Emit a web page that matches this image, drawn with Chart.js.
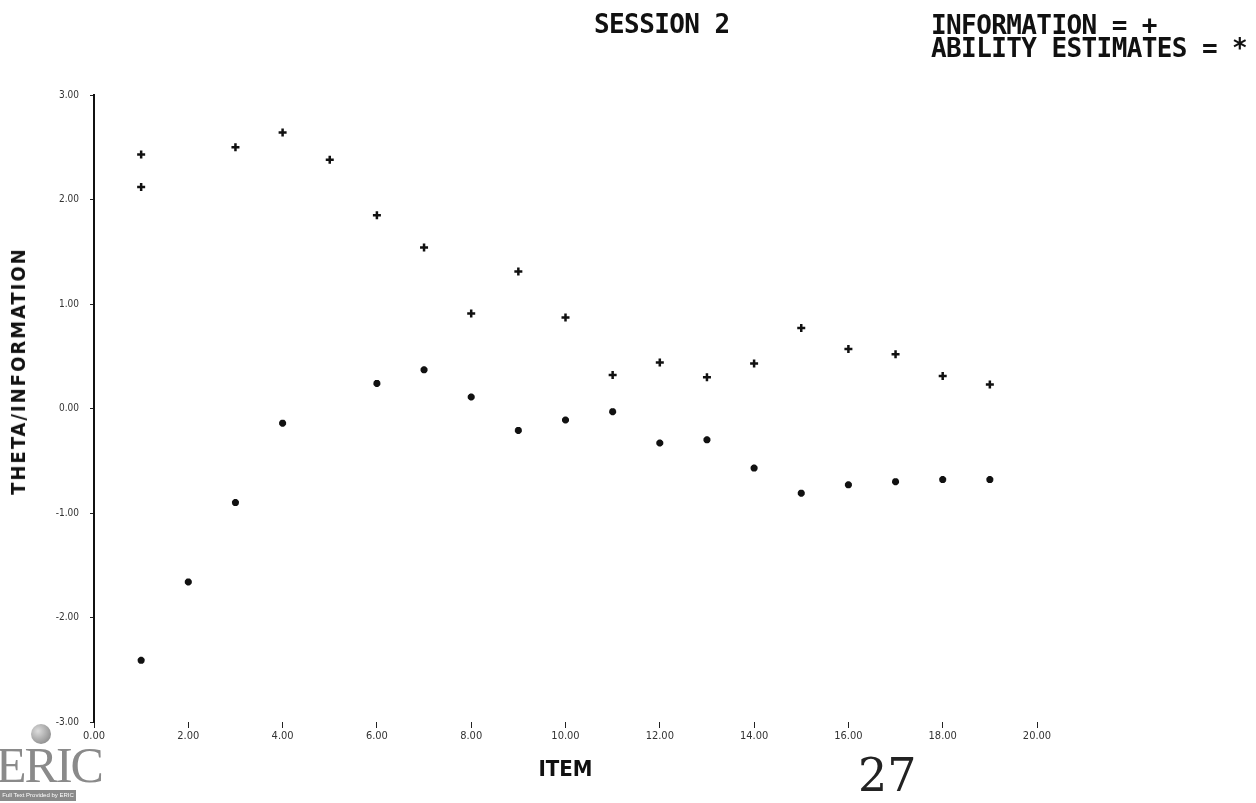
<!DOCTYPE html>
<html>
<head>
<meta charset="utf-8">
<script src="https://cdn.jsdelivr.net/npm/chart.js"></script>
<style>
    html, body { margin: 0; padding: 0; background: #fff; }
    #wrap { position: relative; width: 1256px; height: 803px; overflow: hidden; }
    #chart { position: absolute; left: 0; top: 0; }
    .hdr { position: absolute; font-family: "DejaVu Sans Mono", monospace; font-weight: bold; font-size: 26px; line-height: 26px; letter-spacing: -0.6px; color: #111; white-space: nowrap; }
    #ytitle { position: absolute; left: 18px; top: 371px; transform: translate(-50%, -50%) rotate(-90deg); font-family: "DejaVu Sans Condensed", sans-serif; font-weight: bold; font-size: 20px; letter-spacing: 2px; color: #111; white-space: nowrap; }
    #page { position: absolute; left: 858px; top: 748px; font-family: "DejaVu Serif", "Liberation Serif", serif; font-size: 46px; color: #222; }
    #eric { position: absolute; left: -4px; top: 736px; font-family: "Liberation Serif", serif; font-size: 50px; color: #8a8a8a; letter-spacing: -2px; }
    #globe { position: absolute; left: 31px; top: 724px; width: 20px; height: 20px; border-radius: 50%; background: radial-gradient(circle at 35% 35%, #ddd, #777); }
    #ericbar { position: absolute; left: 0; top: 790px; width: 76px; height: 11px; background: #8a8a8a; color: #fff; font-family: "Liberation Sans", sans-serif; font-size: 6px; line-height: 11px; text-align: center; }
</style>
</head>
<body>
<div id="wrap">
    <canvas id="chart" width="1256" height="803"></canvas>
    <div class="hdr" style="left:594px; top:11px;">SESSION 2</div>
    <div class="hdr" style="left:931px; top:12px;">INFORMATION = +</div>
    <div class="hdr" style="left:931px; top:35px;">ABILITY ESTIMATES = *</div>
    <div id="ytitle">THETA/INFORMATION</div>
    <div id="page">27</div>
    <div id="globe"></div>
    <div id="eric">ERIC</div>
    <div id="ericbar">Full Text Provided by ERIC</div>
</div>
<script>
    // x axis ticks (item number) and y axis ticks (theta / information)
    const xTicks = [0, 2, 4, 6, 8, 10, 12, 14, 16, 18, 20];
    const yTicks = [-3, -2, -1, 0, 1, 2, 3];

    // information values (+)
    const infoItems = [1, 1, 3, 4, 5, 6, 7, 8, 9, 10, 11, 12, 13, 14, 15, 16, 17, 18, 19];
    const infoValues = [2.43, 2.12, 2.50, 2.64, 2.38, 1.85, 1.54, 0.91, 1.31, 0.87, 0.32, 0.44, 0.30, 0.43, 0.77, 0.57, 0.52, 0.31, 0.23];

    // ability estimates (*)
    const abilityItems = [1, 2, 3, 4, 6, 7, 8, 9, 10, 11, 12, 13, 14, 15, 16, 17, 18, 19];
    const abilityValues = [-2.41, -1.66, -0.90, -0.14, 0.24, 0.37, 0.11, -0.21, -0.11, -0.03, -0.33, -0.30, -0.57, -0.81, -0.73, -0.70, -0.68, -0.68];

    function toPoints(xs, ys) {
        return xs.map((x, i) => ({ x: x, y: ys[i] }));
    }

    const ctx = document.getElementById('chart');

    const config = {
        type: 'scatter',
        data: {
            datasets: [{
                label: 'INFORMATION',
                data: toPoints(infoItems, infoValues),
                pointStyle: 'cross',
                pointRadius: 4,
                borderWidth: 2.5,
                borderColor: '#111',
                backgroundColor: '#111'
            }, {
                label: 'ABILITY ESTIMATES',
                data: toPoints(abilityItems, abilityValues),
                pointStyle: 'star',
                pointRadius: 3.5,
                borderWidth: 2.5,
                borderColor: '#111',
                backgroundColor: '#111'
            }]
        },
        options: {
            responsive: false,
            animation: false,
            layout: {
                padding: { top: 95, right: 219, bottom: 0, left: 0 }
            },
            plugins: {
                legend: { display: false },
                tooltip: { enabled: false }
            },
            scales: {
                x: {
                    type: 'linear',
                    min: 0,
                    max: 20,
                    afterBuildTicks: function(scale) {
                        scale.ticks = xTicks.map(v => ({ value: v }));
                    },
                    afterFit: function(scale) {
                        scale.height = 81;
                    },
                    ticks: {
                        autoSkip: false,
                        maxRotation: 0,
                        padding: 2,
                        color: '#333',
                        font: { family: 'DejaVu Sans Condensed', size: 11 },
                        callback: v => v.toFixed(2)
                    },
                    grid: {
                        drawOnChartArea: false,
                        drawTicks: true,
                        tickLength: 6,
                        tickColor: '#222',
                        lineWidth: 1
                    },
                    border: { display: false },
                    title: {
                        display: true,
                        text: 'ITEM',
                        color: '#111',
                        font: { family: 'DejaVu Sans Condensed', size: 22, weight: 'bold' },
                        padding: { top: 0, bottom: 20 }
                    }
                },
                y: {
                    type: 'linear',
                    min: -3,
                    max: 3,
                    afterBuildTicks: function(scale) {
                        scale.ticks = yTicks.map(v => ({ value: v }));
                    },
                    afterFit: function(scale) {
                        scale.width = 94;
                    },
                    ticks: {
                        padding: 11,
                        color: '#333',
                        font: { family: 'DejaVu Sans Condensed', size: 10 },
                        callback: v => v.toFixed(2)
                    },
                    grid: {
                        drawOnChartArea: false,
                        drawTicks: true,
                        tickLength: 4,
                        tickColor: '#222'
                    },
                    border: { display: true, color: '#111', width: 2 }
                }
            }
        }
    };

    window.thetaChart = new Chart(ctx, config);
</script>
</body>
</html>
